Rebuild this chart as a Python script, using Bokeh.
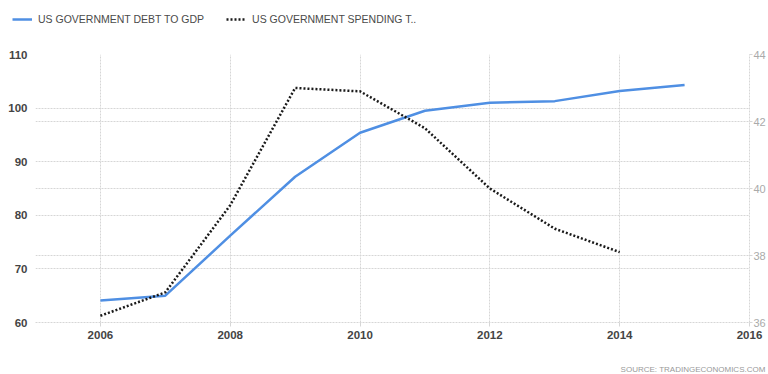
from bokeh.plotting import figure
from bokeh.layouts import column
from bokeh.models import (Range1d, LinearAxis, FixedTicker, Grid, Legend, LegendItem, Label)
from bokeh.embed import file_html
from bokeh.resources import INLINE

years_debt = [2006, 2007, 2008, 2009, 2010, 2011, 2012, 2013, 2014, 2015]
debt_to_gdp = [64.1, 65.0, 76.2, 87.2, 95.4, 99.5, 101.0, 101.3, 103.2, 104.3]
years_spend = [2006, 2007, 2008, 2009, 2010, 2011, 2012, 2013, 2014]
spending_to_gdp = [36.2, 36.9, 39.5, 43.0, 42.9, 41.8, 40.0, 38.8, 38.1]

x_ticks = [2006, 2008, 2010, 2012, 2014, 2016]
left_ticks = [60, 70, 80, 90, 100, 110]
right_ticks = [36, 38, 40, 42, 44]
series_names = ["US GOVERNMENT DEBT TO GDP", "US GOVERNMENT SPENDING T.."]
source_text = "SOURCE: TRADINGECONOMICS.COM"

FONT = "Liberation Sans"
GRID = "#d6d6d6"
BLUE = "#4f8fe3"
DARK = "#1a1a1a"

p = figure(width=768, height=334, output_backend="svg", toolbar_location=None,
           x_range=Range1d(2005, 2016), y_range=Range1d(60, 110),
           min_border_left=35, min_border_right=16, min_border_top=26, min_border_bottom=40)
p.frame_align = False
p.outline_line_color = None
p.background_fill_color = "white"
p.border_fill_color = "white"
p.extra_y_ranges = {"right": Range1d(36, 44)}

# x axis
xa = p.xaxis[0]
xa.ticker = FixedTicker(ticks=x_ticks)
xa.axis_line_color = GRID
xa.axis_line_dash = "2 1"
xa.major_tick_line_color = GRID
xa.major_tick_out = 4
xa.major_tick_in = 0
xa.minor_tick_line_color = None
xa.major_label_standoff = 4
xa.major_label_text_font = FONT
xa.major_label_text_font_style = "bold"
xa.major_label_text_font_size = "11.5px"
xa.major_label_text_color = "#444444"

# left axis
ya = p.yaxis[0]
ya.ticker = FixedTicker(ticks=left_ticks)
ya.axis_line_color = None
ya.major_tick_line_color = None
ya.minor_tick_line_color = None
ya.major_label_standoff = 2
ya.major_label_text_font = FONT
ya.major_label_text_font_style = "bold"
ya.major_label_text_font_size = "11.5px"
ya.major_label_text_color = "#444444"

# right axis
ra = LinearAxis(y_range_name="right", ticker=FixedTicker(ticks=right_ticks))
ra.axis_line_color = GRID
ra.axis_line_dash = "2 1"
ra.major_tick_line_color = GRID
ra.major_tick_out = 3
ra.major_tick_in = 0
ra.minor_tick_line_color = None
ra.major_label_standoff = 1
ra.major_label_text_font = FONT
ra.major_label_text_font_size = "11px"
ra.major_label_text_color = "#aaaaaa"
p.add_layout(ra, "right")

# grids
p.xgrid.ticker = FixedTicker(ticks=x_ticks)
p.xgrid.grid_line_color = GRID
p.xgrid.grid_line_dash = "2 1"
p.ygrid.ticker = FixedTicker(ticks=left_ticks)
p.ygrid.grid_line_color = GRID
p.ygrid.grid_line_dash = "2 1"
rg = Grid(dimension=1, ticker=FixedTicker(ticks=right_ticks), y_range_name="right",
          grid_line_color=GRID, grid_line_dash="2 1")
p.add_layout(rg)

p.line(years_debt, debt_to_gdp, line_color=BLUE, line_width=2.5)
p.line(years_spend, spending_to_gdp, y_range_name="right", line_color=DARK,
       line_width=2.5, line_dash="2 2")

# legend strip on top
lg = figure(width=768, height=28, output_backend="svg", toolbar_location=None,
            x_range=Range1d(0, 1), y_range=Range1d(0, 1),
            x_axis_type=None, y_axis_type=None, min_border=0)
lg.frame_align = False
lg.outline_line_color = None
lg.grid.visible = False
d1 = lg.line([-10, -9], [-10, -10], line_color=BLUE, line_width=2.5)
d2 = lg.line([-10, -9], [-10, -10], line_color=DARK, line_width=2.5, line_dash="2 2")
legend = Legend(items=[LegendItem(label=series_names[0], renderers=[d1]),
                       LegendItem(label=series_names[1], renderers=[d2])],
                orientation="horizontal", location=(12, 2),
                label_text_font=FONT, label_text_font_size="10.5px", label_text_color="#4a4a4a",
                glyph_width=20, glyph_height=14, label_height=14, label_standoff=6,
                spacing=22, padding=0, margin=0,
                border_line_alpha=0, background_fill_alpha=0)
lg.add_layout(legend, "center")

# source strip at the bottom
sb = figure(width=768, height=12, output_backend="svg", toolbar_location=None,
            x_range=Range1d(0, 1), y_range=Range1d(0, 1),
            x_axis_type=None, y_axis_type=None, min_border=0)
sb.frame_align = False
sb.outline_line_color = None
sb.grid.visible = False
sb.add_layout(Label(x=765, y=5, x_units="screen", y_units="screen", text=source_text,
                    text_align="right", text_baseline="middle",
                    text_font=FONT, text_font_size="8px", text_color="#999999"))

layout = column(lg, p, sb, spacing=0)
open("out.html", "w").write(file_html(layout, INLINE))
